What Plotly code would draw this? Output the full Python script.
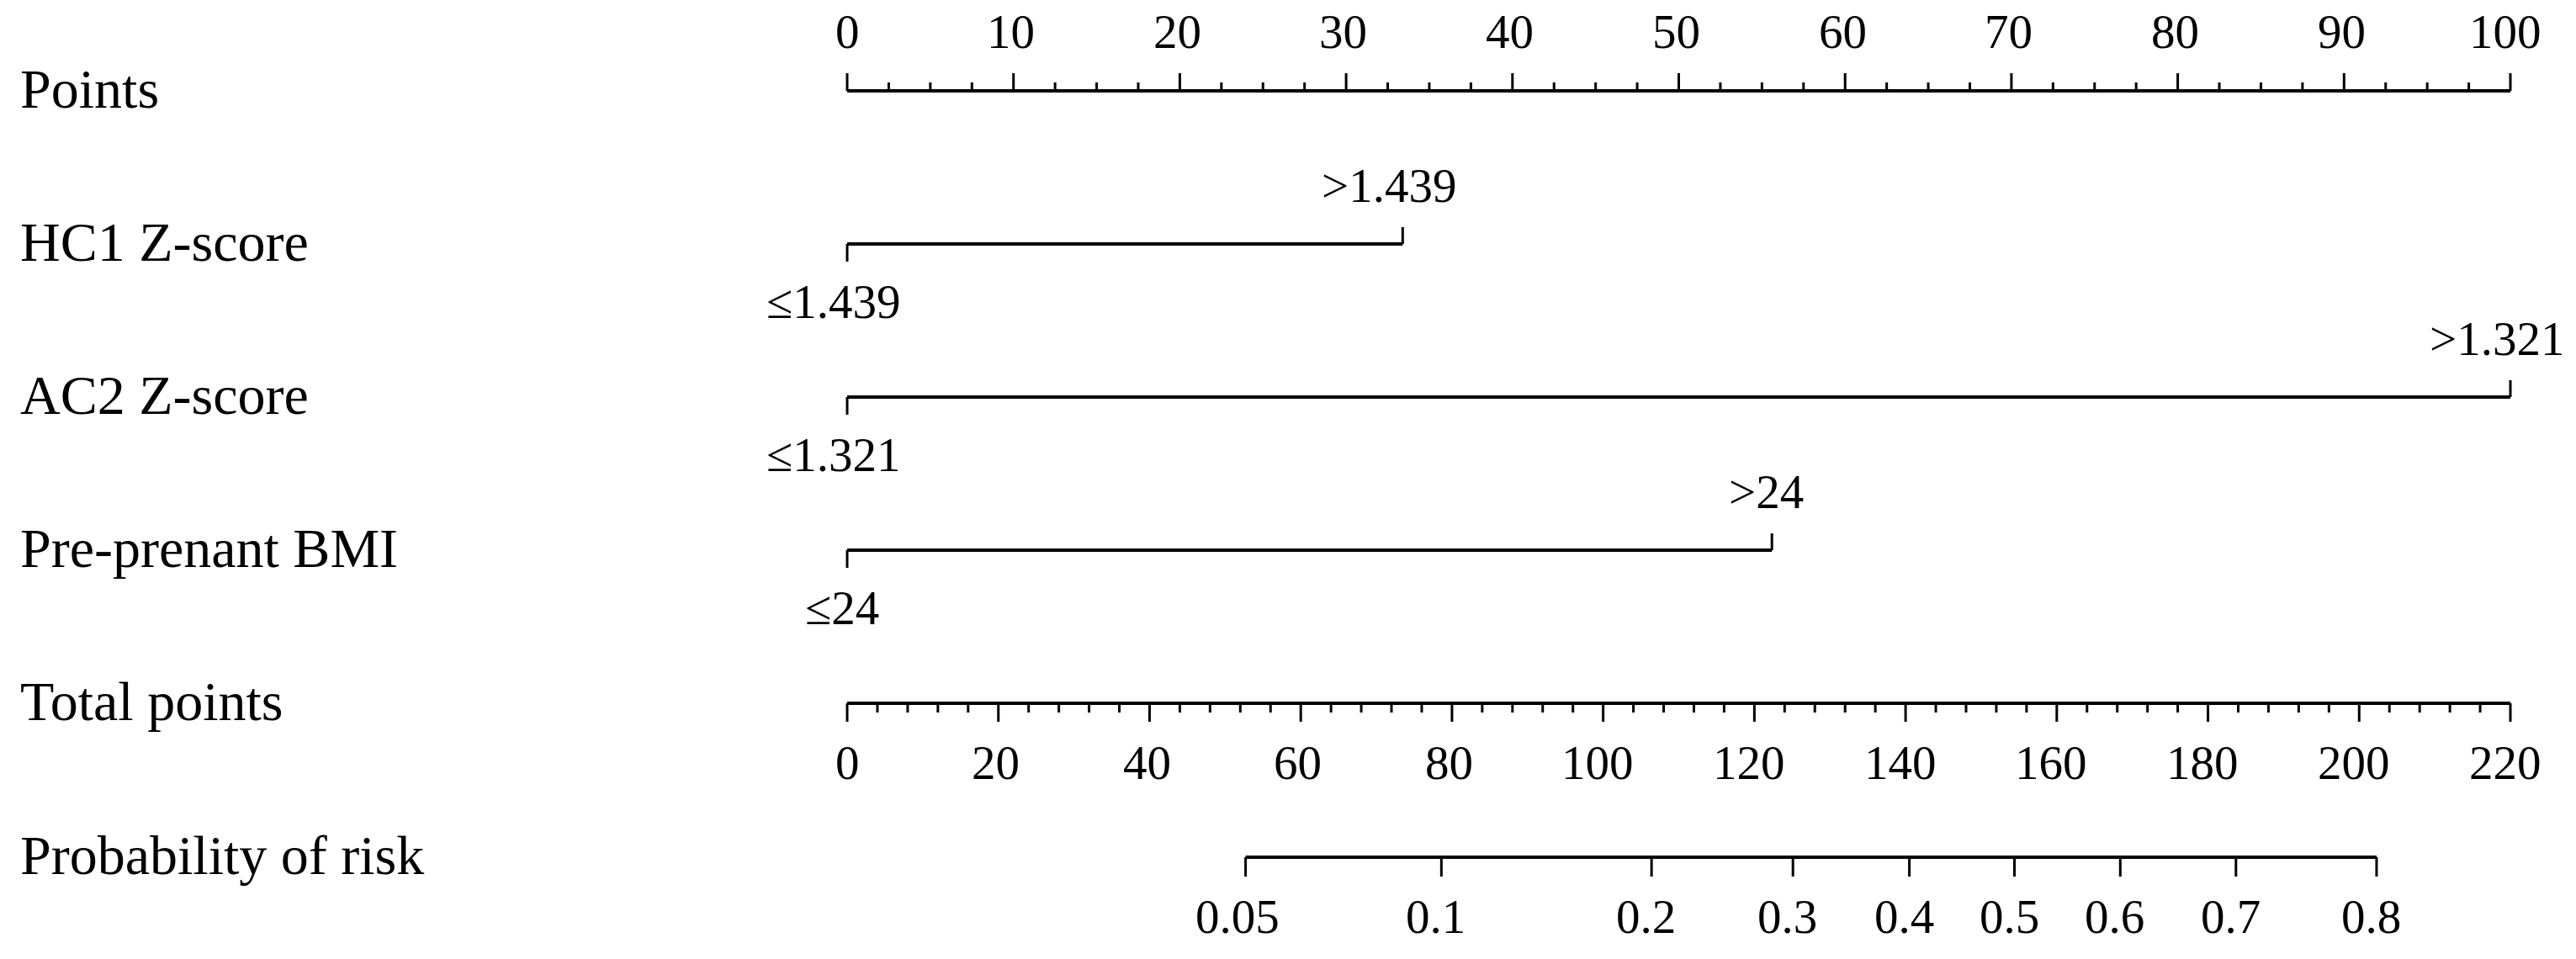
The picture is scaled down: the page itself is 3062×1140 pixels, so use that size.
import numpy as np
import plotly.graph_objects as go

# ---------------- data ----------------
points_major = [0, 10, 20, 30, 40, 50, 60, 70, 80, 90, 100]
points_minor_step = 2.5

variables = ["HC1 Z-score", "AC2 Z-score", "Pre-prenant BMI"]
low_labels = ["≤1.439", "≤1.321", "≤24"]
high_labels = [">1.439", ">1.321", ">24"]
low_points = [0, 0, 0]
high_points = [33.4, 100, 55.6]

total_major = [0, 20, 40, 60, 80, 100, 120, 140, 160, 180, 200, 220]
total_minor_step = 4
total_max = 220

prob_ticks = [0.05, 0.1, 0.2, 0.3, 0.4, 0.5, 0.6, 0.7, 0.8]
prob_tick_labels = ["0.05", "0.1", "0.2", "0.3", "0.4", "0.5", "0.6", "0.7", "0.8"]
prob_total_points = [52.7, 78.6, 106.4, 125.1, 140.5, 154.4, 168.4, 183.7, 202.3]

row_titles = ["Points"] + variables + ["Total points", "Probability of risk"]

# ---------------- layout / style ----------------
W, H = 3062, 1140
X0_PX, X100_PX = 1007, 2984          # pixel positions of 0 and 100 points
scale = (X100_PX - X0_PX) / 100.0
x_range = [-X0_PX / scale, (W - X0_PX) / scale]

row_y = [108, 290, 472, 654, 836, 1019]   # pixel rows (y axis reversed)
LABEL_X_PX = 22
FONT = "Liberation Serif"
ROW_FS = 66
TICK_FS = 57
LW_AXIS = 4
LW_TICK = 3
LABEL_OFF = 70

def tp_to_pts(v):
    return np.asarray(v, dtype=float) * 100.0 / total_max

fig = go.Figure()

def add_segments(xs_pairs, ys_pairs, width):
    xs, ys = [], []
    for (xa, xb), (ya, yb) in zip(xs_pairs, ys_pairs):
        xs += [xa, xb, None]
        ys += [ya, yb, None]
    fig.add_trace(go.Scatter(x=xs, y=ys, mode="lines",
                             line=dict(color="black", width=width),
                             hoverinfo="skip", showlegend=False))

def add_text(x, y, text, size, xanchor="center", xshift=None):
    if xshift is None:
        xshift = -3.2 * (len(text) - 1)
    fig.add_annotation(x=x, y=y, xref="x", yref="y", text=text, showarrow=False,
                       xanchor=xanchor, yanchor="middle", xshift=xshift,
                       font=dict(family=FONT, size=size, color="black"))

# ---- Points axis (ticks up) ----
y = row_y[0]
add_segments([(points_major[0], points_major[-1])], [(y, y)], LW_AXIS)
minor = np.arange(points_major[0], points_major[-1] + 1e-9, points_minor_step)
minor = [m for m in minor if not np.isclose(m % 10, 0)]
add_segments([(m, m) for m in minor], [(y, y - 10)] * len(minor), LW_TICK)
add_segments([(m, m) for m in points_major], [(y, y - 21)] * len(points_major), LW_TICK)
for m in points_major:
    add_text(m, y - LABEL_OFF - 1, str(m), TICK_FS)

# ---- variable rows ----
for i, name in enumerate(variables):
    y = row_y[i + 1]
    lo, hi = low_points[i], high_points[i]
    add_segments([(lo, hi)], [(y, y)], LW_AXIS)
    add_segments([(lo, lo)], [(y, y + 21)], LW_TICK)
    add_segments([(hi, hi)], [(y, y - 20)], LW_TICK)
    add_text(hi, y - LABEL_OFF, high_labels[i], TICK_FS)
    add_text(lo, y + LABEL_OFF - 2, low_labels[i], TICK_FS)

# ---- Total points axis (ticks down) ----
y = row_y[4]
tmaj = tp_to_pts(total_major)
add_segments([(tmaj[0], tmaj[-1])], [(y, y)], LW_AXIS)
tminor = np.arange(0, total_max + 1e-9, total_minor_step)
tminor = [m for m in tminor if not np.isclose(m % 20, 0)]
tminor_p = tp_to_pts(tminor)
add_segments([(m, m) for m in tminor_p], [(y, y + 11)] * len(tminor_p), LW_TICK)
add_segments([(m, m) for m in tmaj], [(y, y + 22)] * len(tmaj), LW_TICK)
for v, m in zip(total_major, tmaj):
    add_text(m, y + LABEL_OFF, str(v), TICK_FS)

# ---- Probability axis (ticks down) ----
y = row_y[5]
pp = tp_to_pts(prob_total_points)
add_segments([(pp[0], pp[-1])], [(y, y)], LW_AXIS)
add_segments([(m, m) for m in pp], [(y, y + 23)] * len(pp), LW_TICK)
for lab, m in zip(prob_tick_labels, pp):
    add_text(m, y + LABEL_OFF, lab, TICK_FS)

# ---- row titles ----
label_x = (LABEL_X_PX - X0_PX) / scale
for t, yy in zip(row_titles, row_y):
    add_text(label_x, yy - 3, t, ROW_FS, xanchor="left", xshift=0)

fig.update_layout(
    width=W, height=H,
    margin=dict(l=0, r=0, t=0, b=0),
    paper_bgcolor="white", plot_bgcolor="white",
    xaxis=dict(range=x_range, visible=False, fixedrange=True),
    yaxis=dict(range=[H, 0], visible=False, fixedrange=True),
    showlegend=False,
)

fig.write_html("out.html", config={"displayModeBar": False},
               post_script="document.body.style.margin='0';document.body.style.padding='0';")
